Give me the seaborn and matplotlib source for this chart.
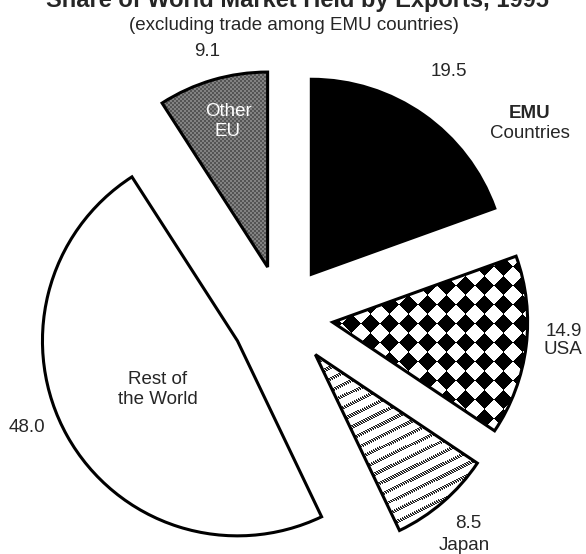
import numpy as np
import matplotlib
matplotlib.use("Agg")
import matplotlib.pyplot as plt
import seaborn as sns

sns.set_theme(style="white")
plt.rcParams["font.family"] = ["Liberation Sans", "DejaVu Sans"]

# Shares of world export market, 1995 (percent)
regions = ["EMU Countries", "USA", "Japan", "Rest of the World", "Other EU"]
shares = [19.5, 14.9, 8.5, 48.0, 9.1]
value_labels = [f"{v:.1f}" for v in shares]

title = "Share of World Market Held by Exports, 1995"
subtitle = "(excluding trade among EMU countries)"

W, H = 586, 554
fig = plt.figure(figsize=(W / 100, H / 100), dpi=100)
ax = fig.add_axes([0, 0, 1, 1])

CX, CY = 282, H - 316
R = 195
OFFSET = 51
pie_kw = dict(startangle=90, counterclock=False, radius=R, center=(CX, CY),
              explode=[OFFSET] * len(shares), frame=True)

# base fills
fills = ["black", "white", "white", "white", "#828282"]
wedges, _ = ax.pie(shares, colors=fills, wedgeprops=dict(linewidth=0, zorder=1), **pie_kw)

# texture fills, one pixel per data unit
yy, xx = np.mgrid[0:H, 0:W].astype(float)

def texture(mask, alpha=1.0):
    img = np.zeros((H, W, 4))
    img[..., 3] = mask.astype(float) * alpha
    return img

g = 19.0
diamonds = ((np.floor((xx + yy) / g) + np.floor((xx - yy) / g)) % 2 == 0)
ang = np.deg2rad(26)
d = xx * np.sin(ang) + yy * np.cos(ang)
stripes = ((d % 10.5) < 3.5) & (((xx + 2 * yy) % 3) != 0)
grain = ((np.floor(xx / 2) + np.floor(yy / 2)) % 2) == 0

for idx, mask, a in [(1, diamonds, 1.0), (2, stripes, 0.85), (4, grain, 0.35)]:
    im = ax.imshow(texture(mask, a), extent=(0, W, 0, H), origin="upper",
                   interpolation="nearest", zorder=2)
    im.set_clip_path(wedges[idx])

# outlines on top
ax.pie(shares, colors=["none"] * len(shares),
       wedgeprops=dict(linewidth=2.2, edgecolor="black", joinstyle="miter", zorder=3),
       **pie_kw)

ax.set_xlim(0, W)
ax.set_ylim(0, H)
ax.set_aspect("equal")
ax.axis("off")

FS = 13.5

def put(x, y, s, **kw):
    kw.setdefault("fontsize", FS)
    ax.text(x, H - y, s, ha="center", va="center", zorder=5, **kw)

fig.text(297 / W, 1 - 7 / H, title, ha="center", va="baseline",
         fontsize=17, fontweight="bold")
put(294, 25, subtitle)

# value labels
put(449, 72, value_labels[0])
put(564, 331, value_labels[1])
put(468, 524, value_labels[2])
put(27, 427, value_labels[3])
put(207, 51, value_labels[4])

# region names
put(530, 113, "EMU", fontweight="bold")
put(530, 133, "Countries")
put(563, 349, "USA")
put(464, 545, "Japan")
put(158, 380, "Rest of")
put(158, 400, "the World")
put(228, 112, "Other", color="white")
put(228, 132, "EU", color="white")

fig.savefig("out.png", dpi=100)
